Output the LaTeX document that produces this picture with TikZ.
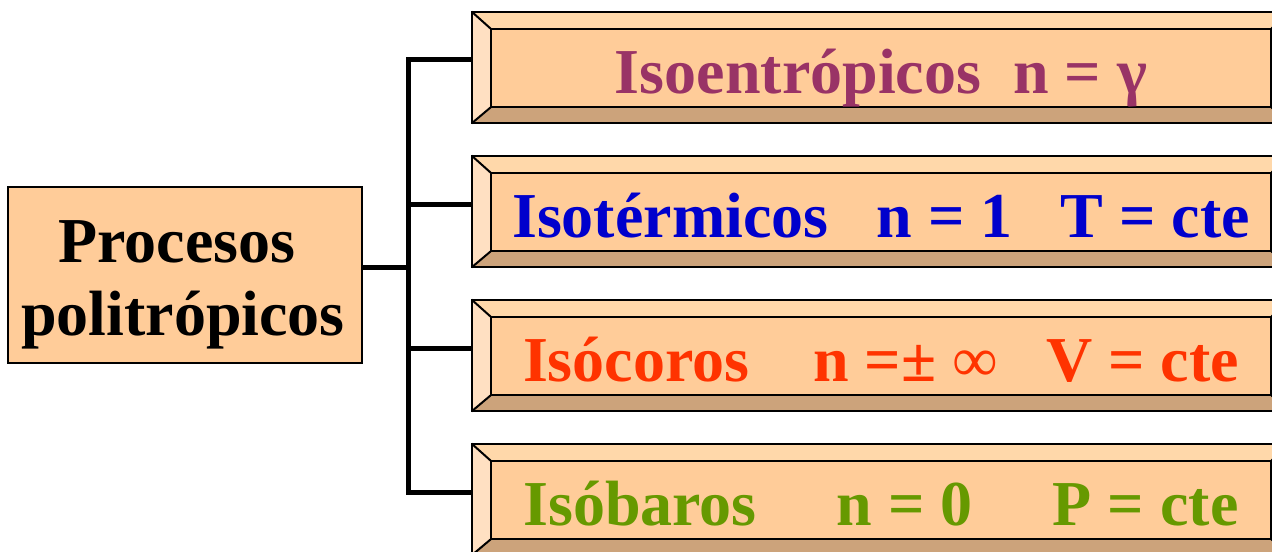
\documentclass[tikz,border=0pt]{standalone}
\usepackage{fontspec}
\setmainfont{Liberation Serif}
\usepackage{tikz}
\usetikzlibrary{positioning}
\definecolor{peach}{HTML}{FFCC99}
\definecolor{topbevel}{HTML}{FFD8AA}
\definecolor{leftbevel}{HTML}{FFE0C2}
\definecolor{bottombevel}{HTML}{CCA37B}
\definecolor{rightbevel}{HTML}{CC9966}
\definecolor{isoent}{HTML}{993366}
\definecolor{isoterm}{HTML}{0000CC}
\definecolor{isocor}{HTML}{FF3300}
\definecolor{isobar}{HTML}{669900}

\begin{document}
\begin{tikzpicture}[x=0.5pt,y=-0.5pt,
  outerbox/.style={minimum width=409pt,minimum height=55.5pt,inner sep=0pt},
  conn/.style={line width=2.5pt},
  rim/.style={line width=1pt},
  label/.style={font=\bfseries\fontsize{32}{36.5}\selectfont,anchor=base,inner sep=0pt}]
\useasboundingbox (0,0) rectangle (1272,551);
\clip (0,0) rectangle (1272,551);

% caja de la izquierda
\node [draw,rim,fill=peach,minimum width=177pt,minimum height=88pt,inner sep=0pt] (procesos) at (185,275) {};
\node [label] (proc1) at (177,262) {Procesos};
\node [label] (proc2) at (183,335) {politrópicos};

% posiciones de las cajas
\foreach \k in {1,...,4}
  \node [outerbox] (b\k) at (881,{67.5+144*(\k-1)}) {};

% conectores
\coordinate (bus) at (408,267);
\draw [conn] (procesos.east |- bus) -- (bus);
\foreach \k in {1,...,4}
  \draw [conn] (bus) |- ([shift={(0,-7.5)}]b\k.west);

% cajas biseladas
\foreach \k/\col/\txt in {1/isoent/{Isoentrópicos~~n = γ},
                          2/isoterm/{Isotérmicos~~~n = 1~~~T = cte},
                          3/isocor/{Isócoros~~~~n =± {\mdseries ∞}~~~V = cte},
                          4/isobar/{Isóbaros~~~~~n = 0~~~~~P = cte}}{
  \fill [leftbevel] (b\k.north west) -- ++(19,17) -- ([shift={(19,-16)}]b\k.south west) -- (b\k.south west) -- cycle;
  \fill [topbevel] (b\k.north west) -- (b\k.north east) -- ++(-19,17) -- ([shift={(19,17)}]b\k.north west) -- cycle;
  \fill [bottombevel] (b\k.south west) -- (b\k.south east) -- ++(-19,-16) -- ([shift={(19,-16)}]b\k.south west) -- cycle;
  \fill [rightbevel] (b\k.north east) -- (b\k.south east) -- ++(-19,-16) -- ([shift={(-19,17)}]b\k.north east) -- cycle;
  \draw [rim,fill=peach] ([shift={(19,17)}]b\k.north west) rectangle ([shift={(-19,-16)}]b\k.south east);
  \draw [rim] (b\k.north west) rectangle (b\k.south east);
  \draw [rim] (b\k.north west) -- ++(19,17);
  \draw [rim] (b\k.south west) -- ++(19,-16);
  \draw [rim] (b\k.north east) -- ++(-19,17);
  \draw [rim] (b\k.south east) -- ++(-19,-16);
  \node [label,text=\col] (t\k) at ([shift={(0,25.5)}]b\k.center) {\txt};
}
\end{tikzpicture}
\end{document}
